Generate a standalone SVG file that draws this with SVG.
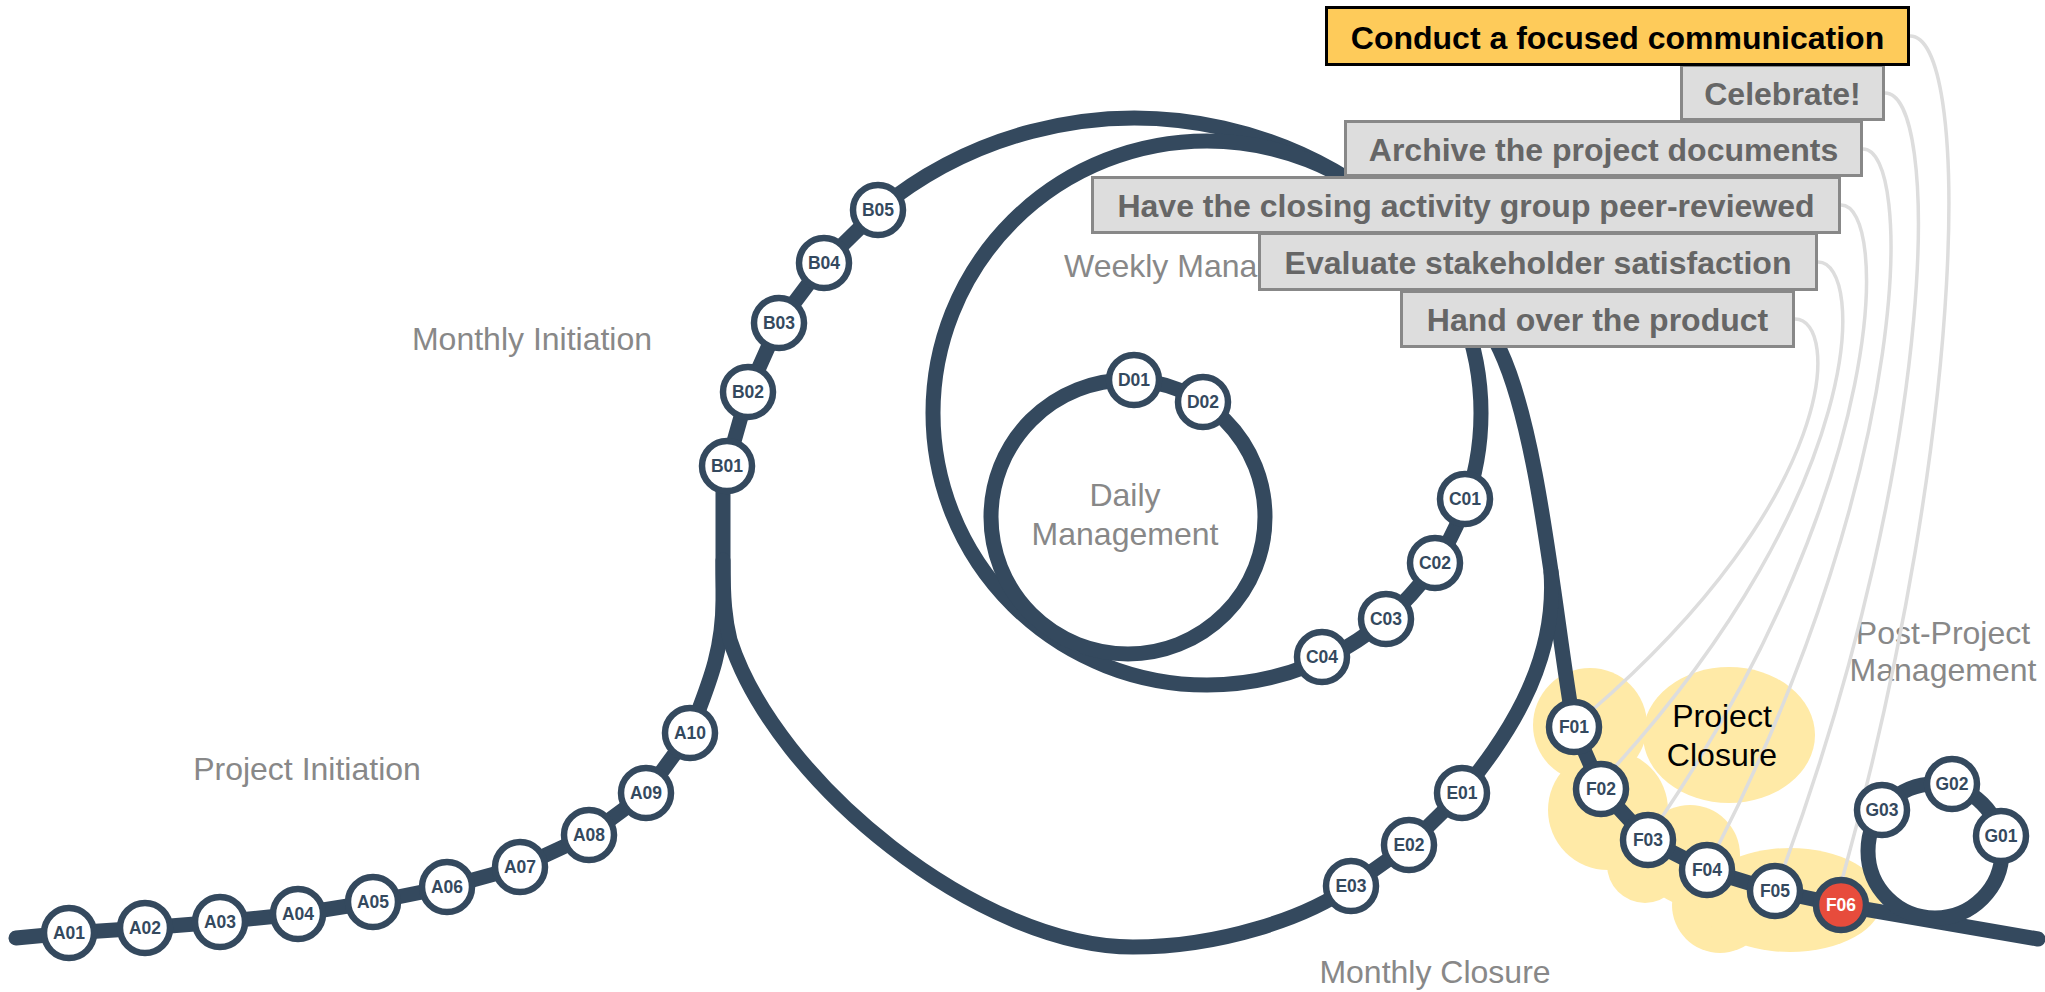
<svg xmlns="http://www.w3.org/2000/svg" width="2045" height="992" viewBox="0 0 2045 992">
<defs>
<style>
.track{fill:none;stroke:#34495e;stroke-width:15;stroke-linecap:round;stroke-linejoin:round}
.link{fill:none;stroke:#dddddd;stroke-width:3.5}
.node circle{fill:#ffffff;stroke:#34495e;stroke-width:6.5}
.node text{font-family:"Liberation Sans",Arial,sans-serif;font-weight:bold;font-size:17.5px;fill:#34495e;text-anchor:middle}
.node.hl circle{fill:#e74c3c}
.node.hl text{fill:#ffffff}
.lbl{font-family:"Liberation Sans",Arial,sans-serif;font-size:32px;fill:#888888;text-anchor:middle}
.lbl.start{text-anchor:start}
.lbl.dark{fill:#000000}
.box rect{fill:#dddddd;stroke:#888888;stroke-width:3}
.box text{font-family:"Liberation Sans",Arial,sans-serif;font-weight:bold;font-size:32px;fill:#666666;text-anchor:middle}
.box.main rect{fill:#fecb5a;stroke:#000000}
.box.main text{fill:#000000}
.blob{fill:#ffeaa7}
</style>
</defs>
<rect width="2045" height="992" fill="#ffffff"/>

<g id="closure-area" class="blob">
<circle cx="1590" cy="725" r="57"/>
<ellipse cx="1729" cy="735" rx="86" ry="68"/>
<circle cx="1608" cy="810" r="60"/>
<circle cx="1690" cy="855" r="50"/>
<circle cx="1645" cy="865" r="38"/>
<circle cx="1720" cy="905" r="48"/>
<ellipse cx="1790" cy="900" rx="92" ry="52"/>
</g>

<g id="labels">
<text class="lbl" x="532" y="350">Monthly Initiation</text>
<text class="lbl" x="307" y="780">Project Initiation</text>
<text class="lbl start" x="1064" y="277">Weekly Management</text>
<text class="lbl" x="1125" y="506">Daily</text>
<text class="lbl" x="1125" y="545">Management</text>
<text class="lbl" x="1435" y="983">Monthly Closure</text>
<text class="lbl" x="1943" y="644">Post-Project</text>
<text class="lbl" x="1943" y="681">Management</text>
</g>

<g id="connectors">
<path class="link" d="M1795,319 C1840,319 1840,496 1590,712"/>
<path class="link" d="M1818,262 C1866,262 1866,490 1614,768"/>
<path class="link" d="M1841,205 C1889,205 1889,480 1662,817"/>
<path class="link" d="M1863,149 C1913,149 1913,464 1717,848"/>
<path class="link" d="M1885,93 C1940,93 1940,441 1784,867"/>
<path class="link" d="M1910,36 C1970,36 1970,416 1842,880"/>
<path class="track" d="M16,938 L69,933 L145,928 L220,922 L298,914 L373,902 L447,887 L520,867 L589,835 L646,793 L690,733 C706,690 723,655 723,600 L723,490 L727,466 L748,392 L779,323 L824,263 L878,210 A404,404 0 0 1 1500,350 C1540,435 1555,620 1574,727 L1601,789 L1648,840 L1707,870 L1775,891 L1841,905 L2038,939"/>
<path class="track" d="M723,560 C723,600 725,620 730,640 C776,783 980,947 1133,947 C1220,947 1306,918 1351,886 L1409,845 L1462,793 C1497,748 1558,672 1551,572"/>
<ellipse class="track" cx="1207" cy="413" rx="274" ry="272"/>
<circle class="track" cx="1128" cy="517" r="137"/>
<circle class="track" cx="1935" cy="851" r="67"/>
</g>

<g id="closure-label">
<text class="lbl dark" x="1722" y="727">Project</text>
<text class="lbl dark" x="1722" y="766">Closure</text>
</g>

<g id="nodes">
<g id="A01" class="node"><circle cx="69" cy="933" r="25"/><text x="69" y="939">A01</text></g>
<g id="A02" class="node"><circle cx="145" cy="928" r="25"/><text x="145" y="934">A02</text></g>
<g id="A03" class="node"><circle cx="220" cy="922" r="25"/><text x="220" y="928">A03</text></g>
<g id="A04" class="node"><circle cx="298" cy="914" r="25"/><text x="298" y="920">A04</text></g>
<g id="A05" class="node"><circle cx="373" cy="902" r="25"/><text x="373" y="908">A05</text></g>
<g id="A06" class="node"><circle cx="447" cy="887" r="25"/><text x="447" y="893">A06</text></g>
<g id="A07" class="node"><circle cx="520" cy="867" r="25"/><text x="520" y="873">A07</text></g>
<g id="A08" class="node"><circle cx="589" cy="835" r="25"/><text x="589" y="841">A08</text></g>
<g id="A09" class="node"><circle cx="646" cy="793" r="25"/><text x="646" y="799">A09</text></g>
<g id="A10" class="node"><circle cx="690" cy="733" r="25"/><text x="690" y="739">A10</text></g>
<g id="B01" class="node"><circle cx="727" cy="466" r="25"/><text x="727" y="472">B01</text></g>
<g id="B02" class="node"><circle cx="748" cy="392" r="25"/><text x="748" y="398">B02</text></g>
<g id="B03" class="node"><circle cx="779" cy="323" r="25"/><text x="779" y="329">B03</text></g>
<g id="B04" class="node"><circle cx="824" cy="263" r="25"/><text x="824" y="269">B04</text></g>
<g id="B05" class="node"><circle cx="878" cy="210" r="25"/><text x="878" y="216">B05</text></g>
<g id="C01" class="node"><circle cx="1465" cy="499" r="25"/><text x="1465" y="505">C01</text></g>
<g id="C02" class="node"><circle cx="1435" cy="563" r="25"/><text x="1435" y="569">C02</text></g>
<g id="C03" class="node"><circle cx="1386" cy="619" r="25"/><text x="1386" y="625">C03</text></g>
<g id="C04" class="node"><circle cx="1322" cy="657" r="25"/><text x="1322" y="663">C04</text></g>
<g id="D01" class="node"><circle cx="1134" cy="380" r="25"/><text x="1134" y="386">D01</text></g>
<g id="D02" class="node"><circle cx="1203" cy="402" r="25"/><text x="1203" y="408">D02</text></g>
<g id="E01" class="node"><circle cx="1462" cy="793" r="25"/><text x="1462" y="799">E01</text></g>
<g id="E02" class="node"><circle cx="1409" cy="845" r="25"/><text x="1409" y="851">E02</text></g>
<g id="E03" class="node"><circle cx="1351" cy="886" r="25"/><text x="1351" y="892">E03</text></g>
<g id="F01" class="node"><circle cx="1574" cy="727" r="25"/><text x="1574" y="733">F01</text></g>
<g id="F02" class="node"><circle cx="1601" cy="789" r="25"/><text x="1601" y="795">F02</text></g>
<g id="F03" class="node"><circle cx="1648" cy="840" r="25"/><text x="1648" y="846">F03</text></g>
<g id="F04" class="node"><circle cx="1707" cy="870" r="25"/><text x="1707" y="876">F04</text></g>
<g id="F05" class="node"><circle cx="1775" cy="891" r="25"/><text x="1775" y="897">F05</text></g>
<g id="F06" class="node hl"><circle cx="1841" cy="905" r="25"/><text x="1841" y="911">F06</text></g>
<g id="G01" class="node"><circle cx="2001" cy="836" r="25"/><text x="2001" y="842">G01</text></g>
<g id="G02" class="node"><circle cx="1952" cy="784" r="25"/><text x="1952" y="790">G02</text></g>
<g id="G03" class="node"><circle cx="1882" cy="810" r="25"/><text x="1882" y="816">G03</text></g>
</g>

<g id="boxes">
<g id="box-hand-over" class="box"><rect x="1401.5" y="291.5" width="392" height="55"/><text x="1597.5" y="331">Hand over the product</text></g>
<g id="box-evaluate" class="box"><rect x="1259.5" y="233.5" width="557" height="56"/><text x="1538" y="273.5">Evaluate stakeholder satisfaction</text></g>
<g id="box-peer-review" class="box"><rect x="1092.5" y="177.5" width="747" height="55"/><text x="1466" y="217">Have the closing activity group peer-reviewed</text></g>
<g id="box-archive" class="box"><rect x="1345.5" y="121.5" width="516" height="54"/><text x="1603.5" y="161">Archive the project documents</text></g>
<g id="box-celebrate" class="box"><rect x="1681.5" y="65.5" width="202" height="54"/><text x="1782.5" y="104.5">Celebrate!</text></g>
<g id="box-communication" class="box main"><rect x="1326.5" y="7.5" width="582" height="57"/><text x="1617.5" y="48.5">Conduct a focused communication</text></g>
</g>
</svg>
